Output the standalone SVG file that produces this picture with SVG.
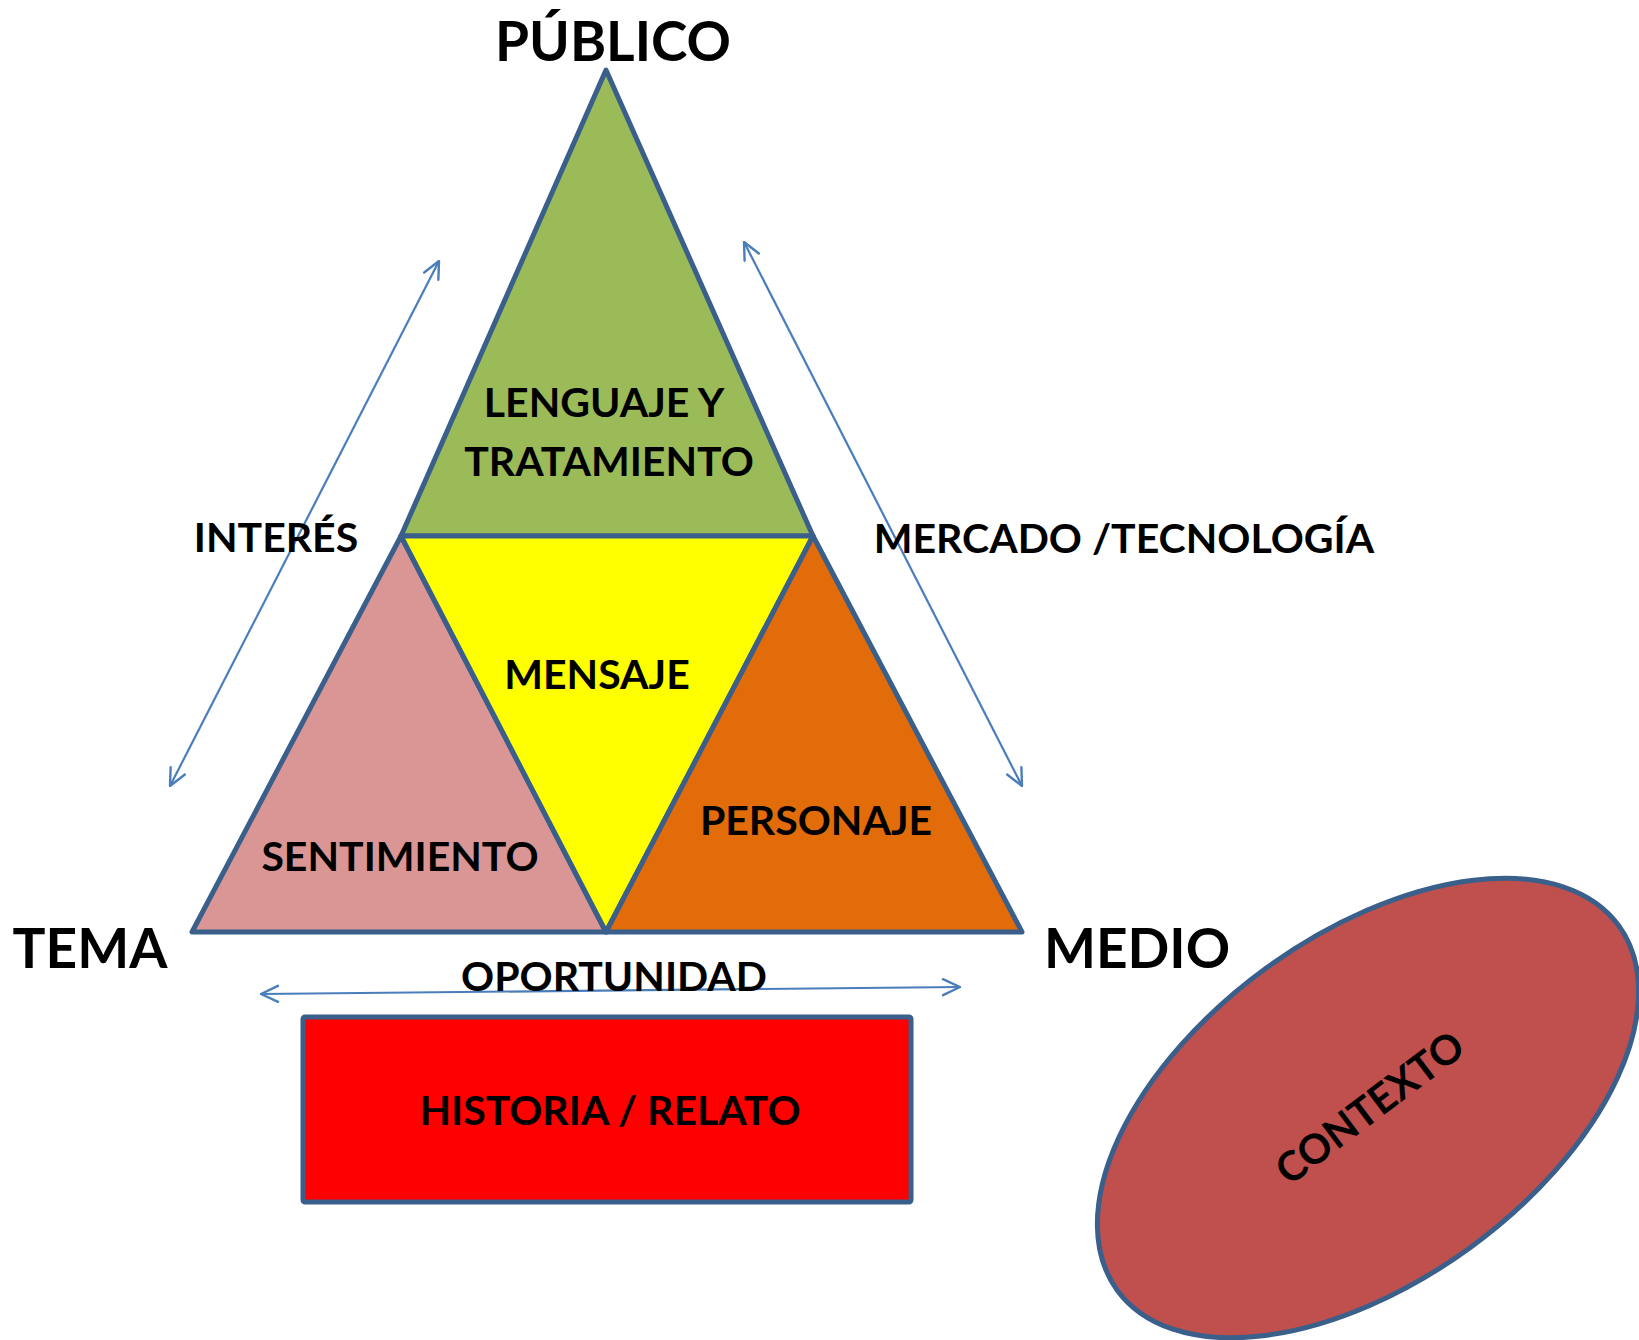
<svg xmlns="http://www.w3.org/2000/svg" width="1639" height="1340" viewBox="0 0 1639 1340">
<style>
.shape{stroke:#3A5F8B;stroke-width:5;stroke-linejoin:round}
.t{font-family:Lato,"Open Sans","Liberation Sans",sans-serif;font-weight:bold;fill:#000;text-anchor:middle}
.big{font-size:55px}
.mid{font-size:41px}
.conn{stroke:#4A7EBB;stroke-width:2.2;fill:none;marker-start:url(#ah);marker-end:url(#ah)}
</style>
<defs>
<marker id="ah" viewBox="0 0 20 20" refX="19" refY="10" markerWidth="20" markerHeight="20" markerUnits="userSpaceOnUse" orient="auto-start-reverse">
<path d="M2,2 L19,10 L2,18" fill="none" stroke="#4A7EBB" stroke-width="2.4" stroke-linecap="round" stroke-linejoin="round"/>
</marker>
</defs>
<rect width="1639" height="1340" fill="#fff"/>
<g id="connectors">
<line class="conn" x1="170" y1="786" x2="439" y2="261"/>
<line class="conn" x1="744" y1="242" x2="1022" y2="786"/>
<line class="conn" x1="261" y1="994" x2="960" y2="987"/>
</g>
<g id="lenguaje">
<polygon class="shape" fill="#9BBB59" points="606,70 401,536 813,536"/>
<text class="t mid" x="604" y="417">LENGUAJE Y</text>
<text class="t mid" x="609" y="476">TRATAMIENTO</text>
</g>
<g id="sentimiento">
<polygon class="shape" fill="#D99694" points="401,536 192,932 606,932"/>
<text class="t mid" x="400" y="871">SENTIMIENTO</text>
</g>
<g id="mensaje">
<polygon class="shape" fill="#FFFF00" points="401,536 813,536 606,932"/>
<text class="t mid" x="597" y="689">MENSAJE</text>
</g>
<g id="personaje">
<polygon class="shape" fill="#E36C0A" points="813,536 606,932 1022,932"/>
<text class="t mid" x="816" y="835">PERSONAJE</text>
</g>
<g id="labels">
<text class="t big" x="613" y="61">PÚBLICO</text>
<text class="t big" x="90" y="968">TEMA</text>
<text class="t big" x="1137" y="968">MEDIO</text>
<text class="t mid" x="276" y="552">INTERÉS</text>
<text class="t mid" x="1124" y="553">MERCADO /TECNOLOGÍA</text>
<text class="t mid" x="614" y="991">OPORTUNIDAD</text>
</g>
<g id="historia">
<rect class="shape" fill="#FF0000" x="303" y="1017" width="608" height="185" rx="2"/>
<text class="t mid" x="610" y="1125">HISTORIA / RELATO</text>
</g>
<g id="contexto">
<ellipse class="shape" fill="#C0504D" cx="1368" cy="1108" rx="310" ry="173" transform="rotate(-36 1368 1108)"/>
<text class="t mid" x="0" y="14" transform="translate(1370 1108) rotate(-37)">CONTEXTO</text>
</g>
</svg>
